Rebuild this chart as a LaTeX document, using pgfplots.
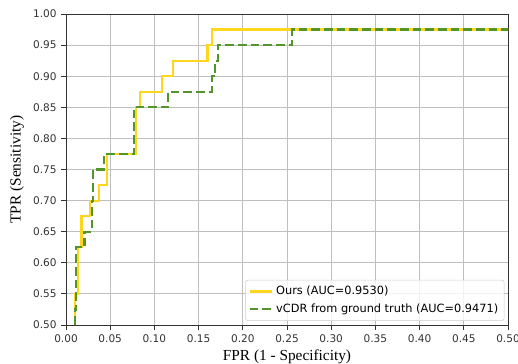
\documentclass[border=0pt]{standalone}
\usepackage{fontspec}
\setmainfont{Liberation Serif}
\newfontfamily\dejavu{DejaVu Sans}
\usepackage{pgfplots}
\pgfplotsset{compat=1.18}
\usetikzlibrary{calc}
\definecolor{cyellow}{RGB}{255,214,30}
\definecolor{cgreen}{RGB}{82,150,42}
\begin{document}
\begin{tikzpicture}
\begin{axis}[
  scale only axis, width=331.5pt, height=233.25pt,
  xmin=0, xmax=0.5, ymin=0.5, ymax=1.0,
  xtick={0,0.05,0.1,0.15,0.2,0.25,0.3,0.35,0.4,0.45,0.5},
  ytick={0.5,0.55,0.6,0.65,0.7,0.75,0.8,0.85,0.9,0.95,1.0},
  /pgf/number format/.cd, fixed, fixed zerofill, precision=2, assume math mode=true,
  /pgfplots/.cd,
  tick label style={font=\dejavu\fontsize{7.9}{9}\selectfont, text=black!80},
  tick align=outside, tick pos=left, major tick length=3.5pt,
  every tick/.style={black!80, line width=0.6pt},
  axis line style={black!80, line width=0.6pt},
  grid=major, major grid style={black!25, line width=0.6pt},
  xlabel={FPR (1 - Specificity)}, ylabel={TPR (Sensitivity)},
  label style={font=\fontsize{11.5}{13}\selectfont},
  xlabel style={yshift=1pt}, ylabel style={yshift=0pt},
  legend cell align=left,
  legend style={at={(0.992,0.013)}, anchor=south east, draw=black!20, rounded corners=2pt,
    fill=white, fill opacity=0.8, text opacity=1,
    font=\dejavu\fontsize{8.5}{10}\selectfont, inner sep=2.5pt, row sep=1.5pt},
  legend image code/.code={\draw[#1] (0pt,0pt) -- (17pt,0pt);},
  clip=true,
]
\addplot[cyellow, line width=1.6pt, line join=miter] coordinates {
(0.0105,0.5) (0.0105,0.55) (0.0135,0.55) (0.0135,0.625) (0.0175,0.625) (0.0175,0.675)
(0.027,0.675) (0.027,0.70) (0.0375,0.70) (0.0375,0.725) (0.046,0.725) (0.046,0.775)
(0.0795,0.775) (0.0795,0.85) (0.0837,0.85) (0.0837,0.875) (0.109,0.875) (0.109,0.90)
(0.121,0.90) (0.121,0.925) (0.160,0.925) (0.160,0.95) (0.1655,0.95) (0.1655,0.975)
(0.5,0.975) (1.0,0.975)};
\addlegendentry{Ours (AUC=0.9530)}
\addplot[cgreen, line width=1.6pt, dash pattern=on 6.5pt off 3pt] coordinates {
(0.0098,0.5) (0.0098,0.525) (0.0113,0.525) (0.0113,0.625) (0.021,0.625) (0.021,0.65)
(0.0294,0.65) (0.0294,0.70) (0.031,0.70) (0.031,0.75) (0.043,0.75) (0.043,0.775)
(0.077,0.775) (0.077,0.85) (0.1157,0.85) (0.1157,0.875) (0.165,0.875) (0.165,0.90)
(0.169,0.90) (0.169,0.925) (0.172,0.925) (0.172,0.95) (0.2555,0.95) (0.2555,0.975)
(0.5,0.975) (1.0,0.975)};
\addlegendentry{vCDR from ground truth (AUC=0.9471)}
\end{axis}
\pgfresetboundingbox
\path[use as bounding box] ($(current axis.south west)+(-49.5pt,-29.25pt)$) rectangle ($(current axis.north east)+(7.5pt,10.5pt)$);
\end{tikzpicture}
\end{document}
